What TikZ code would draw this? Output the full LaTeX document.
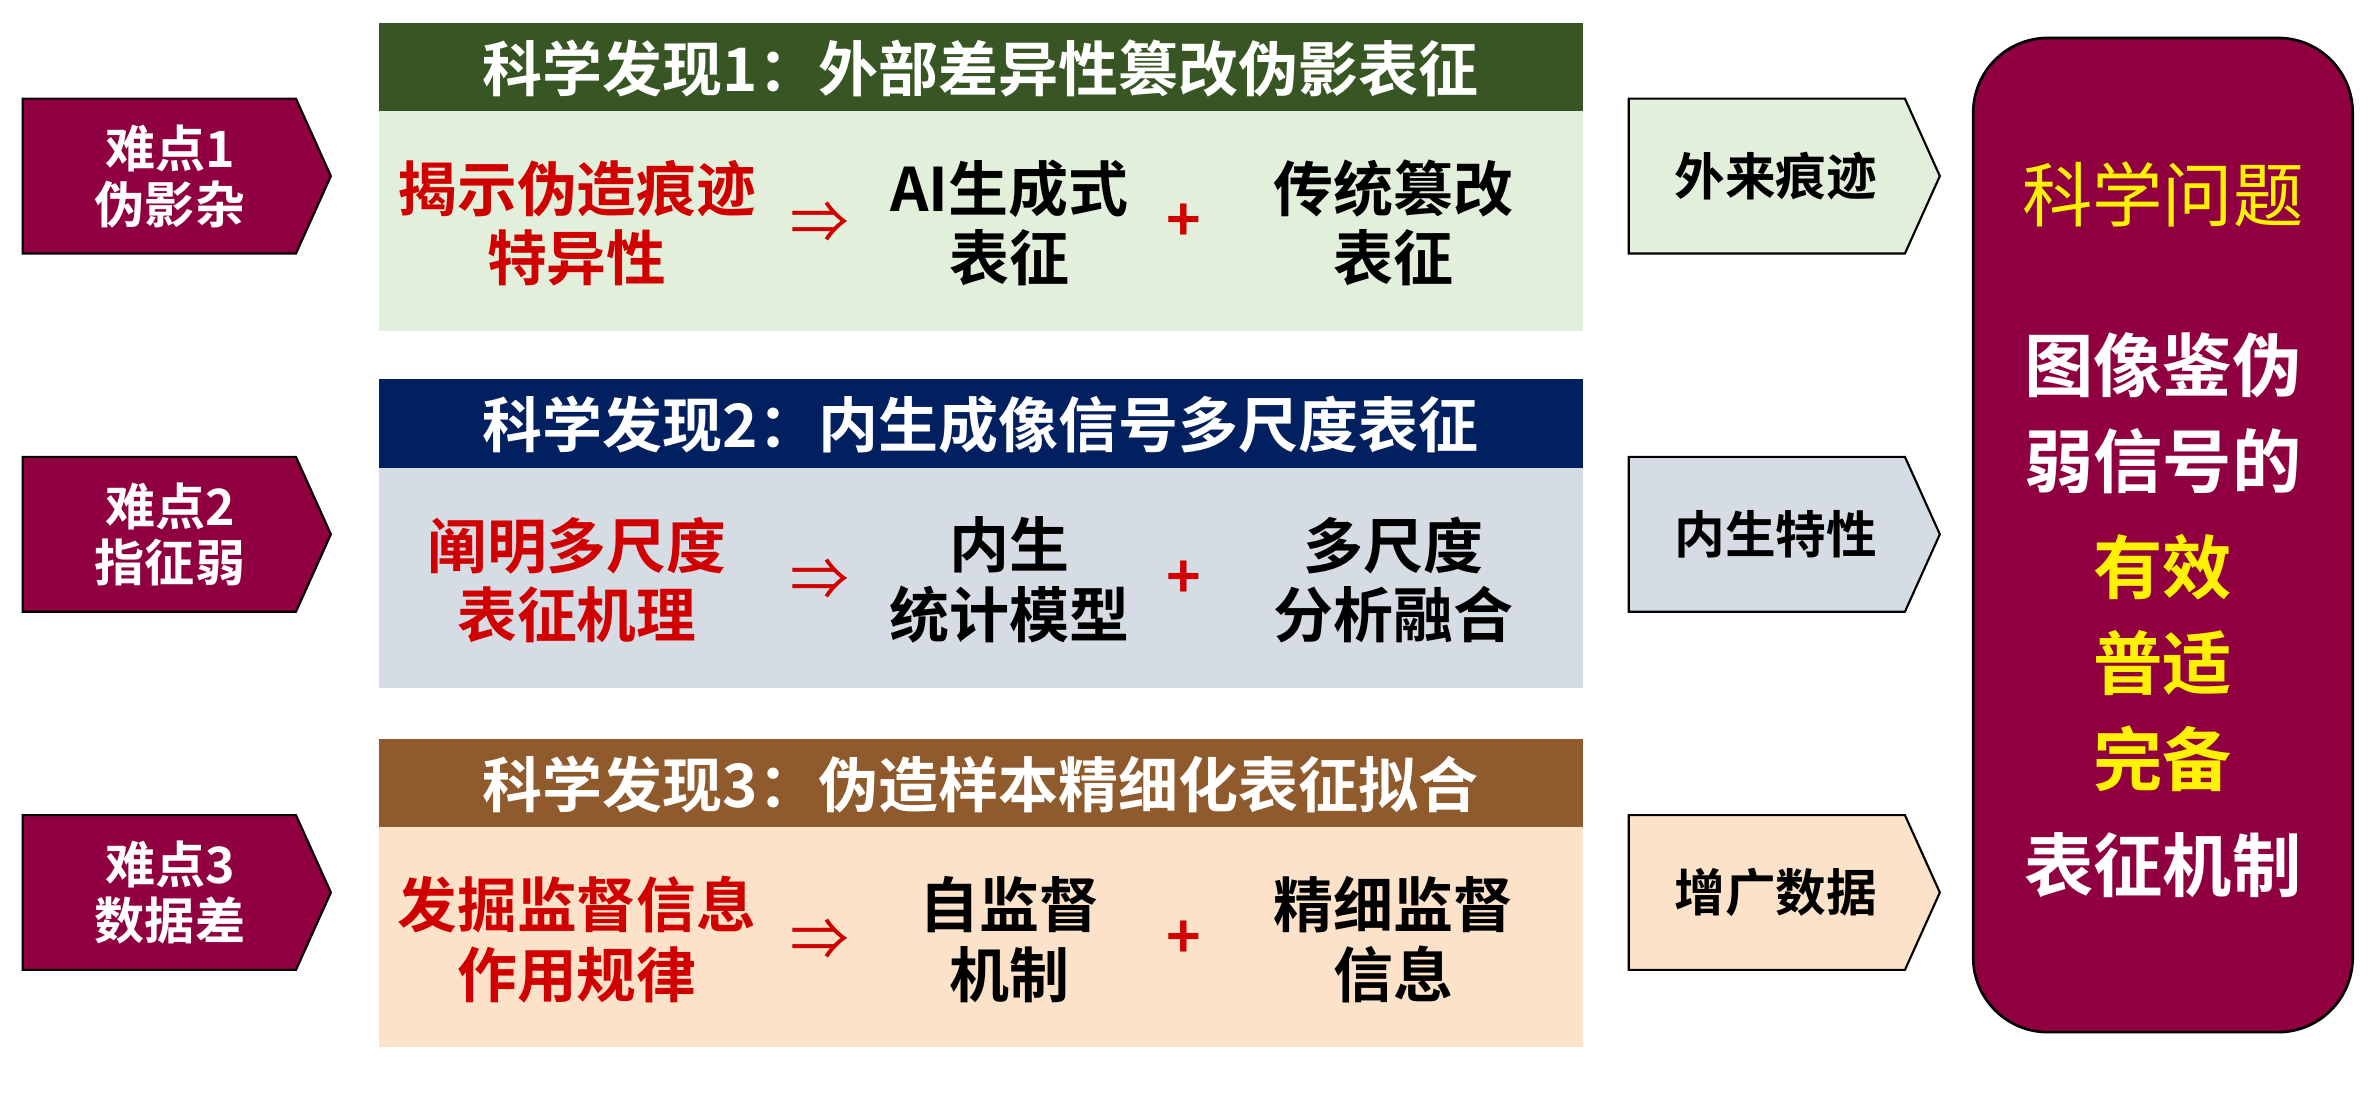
\documentclass[tikz,border=0pt]{standalone}
\usepackage{fontspec}
\newfontfamily\cjk{Noto Sans CJK SC Bold}
\newfontfamily\cjkr{Noto Sans CJK SC}
\usetikzlibrary{shapes.symbols}
\definecolor{mar}{HTML}{900040}
\definecolor{hg}{HTML}{375623}\definecolor{bg}{HTML}{E2EFDA}
\definecolor{hb}{HTML}{002060}\definecolor{bb}{HTML}{D6DCE4}
\definecolor{hr}{HTML}{8F5A2C}\definecolor{br}{HTML}{FBE2C8}
\definecolor{rt}{HTML}{D00000}
\begin{document}
\begin{tikzpicture}[x=0.02cm,y=-0.02cm,
 larrow/.style={fill=mar,draw=black,line width=0.8pt},
 rarrow/.style={draw=black,line width=0.8pt},
 hdr/.style={text=white,font=\cjk\fontsize{22.5}{26}\selectfont},
 red/.style={text=rt,font=\cjk\fontsize{22.4}{26}\selectfont,align=center},
 blk/.style={text=black,font=\cjk\fontsize{22.5}{26}\selectfont,align=center},
 plus/.style={text=rt,font=\cjk\fontsize{22}{22}\selectfont},
 lt/.style={text=white,font=\cjk\fontsize{18.8}{21}\selectfont,align=center},
 rt/.style={text=black,font=\cjk\fontsize{19}{22}\selectfont}]
\useasboundingbox (0,0) rectangle (1568,723);
\foreach \i/\y/\hc/\bc/\t/\a/\b/\c/\d/\r/\p in {
 1/15/hg/bg/{科学发现1：外部差异性篡改伪影表征}/{揭示伪造痕迹\\特异性}/{AI生成式\\表征}/{传统篡改\\表征}/{难点1\\伪影杂}/{外来痕迹}/116,
 2/250/hb/bb/{科学发现2：内生成像信号多尺度表征}/{阐明多尺度\\表征机理}/{内生\\统计模型}/{多尺度\\分析融合}/{难点2\\指征弱}/{内生特性}/352,
 3/487/hr/br/{科学发现3：伪造样本精细化表征拟合}/{发掘监督信息\\作用规律}/{自监督\\机制}/{精细监督\\信息}/{难点3\\数据差}/{增广数据}/588}{
 \fill[\hc] (250,\y) rectangle (1043,\y+58);
 \fill[\bc] (250,\y+58) rectangle (1043,\y+203);
 \node[hdr] (h\i) at (646,\y+30) {\t};
 \node[red] (a\i) at (380,\y+132) {\a};
 \node[text=rt,font=\cjkr\fontsize{22}{22}\selectfont] (im\i) at (540,\y+132) {⇒};
 \node[blk] (b\i) at (665,\y+132) {\b};
 \node[plus] (p\i) at (780,\y+132) {+};
 \node[blk] (c\i) at (918,\y+132) {\c};
 \draw[larrow] (15,\p-51) -- (195,\p-51) -- (218,\p) -- (195,\p+51) -- (15,\p+51) -- cycle;
 \node[lt] (l\i) at (112,\p) {\d};
 \draw[rarrow,fill=\bc] (1073,\p-51) -- (1255,\p-51) -- (1278,\p) -- (1255,\p+51) -- (1073,\p+51) -- cycle;
 \node[rt] (r\i) at (1170,\p) {\r};
}
\draw[fill=mar,draw=black,line width=1pt,rounded corners=28] (1300,25) rectangle (1550,680);
\node[text=yellow,font=\cjkr\fontsize{26.4}{30}\selectfont] (q) at (1425,128) {科学问题};
\node[text=white,font=\cjk\fontsize{26}{36}\selectfont,align=center] (q1) at (1425,272) {图像鉴伪\\弱信号的};
\node[text=yellow,font=\cjk\fontsize{26}{36}\selectfont,align=center] (q2) at (1425,437) {有效\\普适\\完备};
\node[text=white,font=\cjk\fontsize{26}{36}\selectfont] (q3) at (1425,570) {表征机制};
\end{tikzpicture}
\end{document}
